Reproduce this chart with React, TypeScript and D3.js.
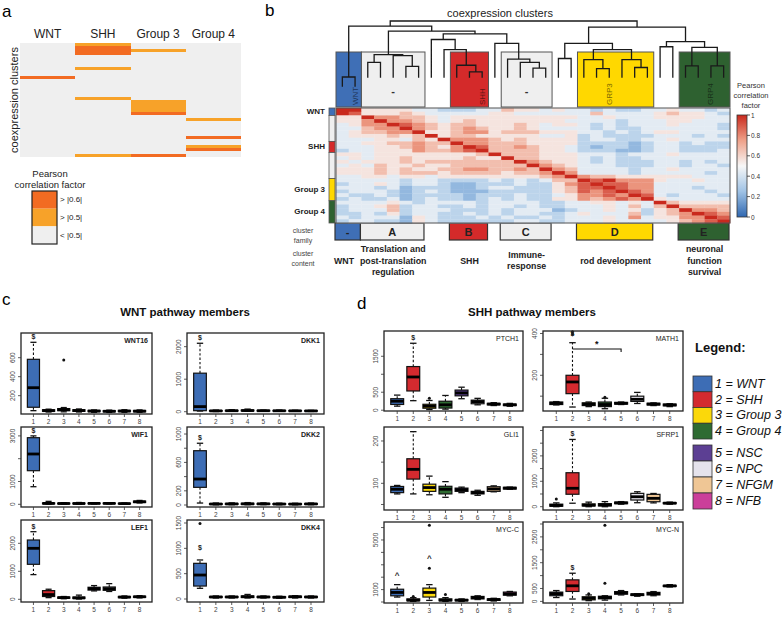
import React from "react";
import * as d3 from "d3";

const SANS = "'Liberation Sans', Arial, Helvetica, sans-serif";
const NARROW = "'Liberation Sans Narrow', 'Liberation Sans', Arial, sans-serif";

// ---------- a: subgroup vs coexpression cluster ----------
const aSubgroups = ["WNT", "SHH", "Group 3", "Group 4"];
const aClusterCount = 38;
const aHitSubgroup = ["SHH", "SHH", "SHH", "SHH", "Group 3", "SHH", "WNT", "SHH", "Group 3", "Group 3", "Group 3", "Group 3", "Group 3", "Group 4", "Group 4", "Group 4", "Group 4", "SHH", "Group 3"];
const aHitCluster = [0, 1, 2, 3, 2, 8, 11, 18, 19, 20, 21, 22, 23, 25, 31, 34, 35, 37, 37];
const aHitLevel = [1, 2, 2, 2, 1, 1, 2, 1, 1, 1, 1, 1, 2, 1, 2, 1, 2, 1, 2]; // 2 = >|0.6|, 1 = >|0.5|
const aLevels = ["> |0.6|", "> |0.5|", "< |0.5|"];
const aLevelColors = ["#f26b22", "#f7a229", "#efefef"];

// ---------- b: cluster correlation matrix (digit = value*9) ----------
const bMatrix = [
  "99 55554 43 334 4 6554 54 434334 45 4434",
  "98 55565 44 444 5 5444 44 464444 56 5543",
  "55 97766 54 555 5 5555 55 445444 55 5544",
  "55 79776 54 565 5 5555 54 444344 45 5444",
  "45 77987 65 665 5 5654 55 434344 45 4443",
  "44 67797 65 676 5 5654 44 434334 44 4443",
  "45 66779 55 677 5 6665 55 443434 55 4444",
  "45 55656 95 665 5 5554 45 343333 44 4343",
  "44 45546 59 777 6 5655 55 344334 45 4444",
  "44 55667 66 977 6 6655 55 333323 44 3433",
  "44 45567 65 798 6 6765 54 323323 44 3333",
  "34 45557 66 789 6 6665 54 333223 44 3334",
  "55 45555 55 556 9 6665 55 444344 45 4444",
  "45 45565 55 565 5 9665 55 434334 44 4444",
  "54 55565 66 666 6 6976 55 434333 44 3434",
  "45 46556 55 666 6 6697 65 444333 44 3443",
  "55 56565 56 677 6 6769 76 444434 45 4444",
  "55 56566 65 666 6 5667 97 444434 44 4434",
  "44 55455 45 555 5 5556 79 766555 55 5444",
  "44 44434 43 333 4 3434 66 989777 54 4544",
  "34 45434 43 223 3 3433 57 898877 44 4444",
  "44 43423 33 223 4 4333 56 889877 44 4344",
  "34 44323 43 222 3 3333 56 878987 44 4434",
  "43 34323 33 323 3 3433 45 778798 43 4443",
  "34 33423 43 323 4 3433 55 767879 54 4444",
  "44 44543 44 443 4 4443 34 455454 96 5555",
  "34 45634 43 343 4 4343 34 445464 69 6666",
  "34 44634 44 333 4 3444 23 445453 56 9776",
  "33 43534 43 343 4 3443 34 544463 56 7987",
  "43 44425 43 334 3 4334 34 445474 55 7798",
  "34 43325 43 333 3 3443 34 445444 45 6789",
];
const bFamilies = ["-", "A", "B", "C", "D", "E"];
const bBoxLabels = ["WNT", "-", "SHH", "-", "GRP3", "GRP4"];
const bContent = [["WNT"], ["Translation and", "post-translation", "regulation"], ["SHH"], ["Immune-", "response"], ["rod development"], ["neuronal", "function", "survival"]];
const bColStart = [0, 2, 9, 13, 19, 27];
const bColEnd = [1, 6, 11, 16, 24, 30];
const bLabelCol = [1, -1, 11, -1, 21, 29];
const bRowSideLabels = ["WNT", "", "SHH", "", "Group 3", "Group 4"];
const bRowStart = [0, 2, 9, 12, 19, 25];
const bRowEnd = [1, 8, 11, 18, 24, 30];
const bScaleTicks = [0, 0.2, 0.4, 0.6, 0.8, 1];
// dendrogram: [merge distance, left, right], leaves are column indices
const bTree: any = [1.0,
  [0.91, [0.0, 0, 1],
    [0.82, [0.4, [0.26, 2, 3], [0.38, 4, [0.19, 5, 6]]],
      [0.77, [0.67, 7, [0.49, 8, [0.21, 9, [0.09, 10, 11]]]],
        [0.6, 12, [0.32, 13, [0.26, 14, [0.16, 15, 16]]]]]]],
  [0.89, [0.6, [0.33, 17, 18], [0.49, [0.31, 19, [0.15, 20, 21]], [0.31, 22, [0.17, 23, 24]]]],
    [0.63, [0.54, 25, 26], [0.53, [0.2, 27, 28], [0.2, 29, 30]]]]];

// ---------- c / d: boxplots, stats = [low whisker, Q1, median, Q3, high whisker] ----------
const groupColors = ["#3d6db5", "#d42a2f", "#fbd80a", "#2e6b32", "#5c3f93", "#e5e3ec", "#efc695", "#cb3f9a"];
const groupLegend = ["1 = WNT", "2 = SHH", "3 = Group 3", "4 = Group 4", "5 = NSC", "6 = NPC", "7 = NFGM", "8 = NFB"];

const WNT16 = { name: "WNT16", domain: [7, 860], ticks: [200, 400, 600], labels: [200, 400, 600],
  stats: [[42, 78, 284, 583, 762], [28, 35, 42, 52, 58], [30, 42, 52, 64, 75], [28, 35, 43, 52, 60], [25, 32, 38, 45, 50], [24, 30, 36, 42, 48], [25, 32, 38, 45, 52], [25, 30, 37, 44, 50]],
  out: [[3, 576]], marks: [[1, "$", 762]] };
const DKK1 = { name: "DKK1", domain: [-71, 2421], ticks: [0, 1000, 2000], labels: [0, 1000, 2000],
  stats: [[20, 31, 157, 1185, 2105], [5, 15, 25, 35, 50], [10, 20, 30, 40, 60], [15, 25, 35, 50, 80], [10, 20, 30, 40, 50], [10, 20, 28, 38, 50], [10, 18, 26, 35, 45], [8, 16, 24, 32, 42]],
  out: [], marks: [[1, "$", 2105]] };
const WIF1 = { name: "WIF1", domain: [-118, 3390], ticks: [0, 1000, 2000, 3000], labels: [0, 1000, 3000],
  stats: [[772, 1474, 2206, 2921, 3000], [10, 20, 40, 60, 130], [10, 20, 35, 50, 70], [10, 20, 35, 55, 80], [15, 25, 40, 55, 70], [15, 25, 40, 55, 70], [10, 20, 30, 45, 60], [60, 80, 110, 140, 170]],
  out: [], marks: [[1, "$", 3000]] };
const DKK2 = { name: "DKK2", domain: [-28, 1099], ticks: [0, 200, 400, 600, 800, 1000], labels: [0, 200, 600, 1000],
  stats: [[28, 249, 366, 765, 870], [3, 8, 14, 20, 28], [4, 9, 15, 22, 30], [4, 9, 16, 24, 34], [5, 10, 16, 22, 30], [4, 8, 14, 20, 26], [3, 8, 13, 19, 25], [4, 9, 15, 21, 28]],
  out: [], marks: [[1, "$", 870]] };
const LEF1 = { name: "LEF1", domain: [-96, 2832], ticks: [0, 1000, 2000], labels: [0, 1000, 2000],
  stats: [[882, 1250, 1821, 2118, 2414], [60, 100, 170, 310, 360], [20, 40, 60, 80, 100], [10, 30, 50, 80, 150], [300, 330, 380, 430, 490], [280, 320, 380, 440, 560], [40, 60, 80, 100, 120], [50, 70, 90, 110, 130]],
  out: [], marks: [[1, "$", 2414]] };
const DKK4 = { name: "DKK4", domain: [-59, 1559], ticks: [0, 500, 1000, 1500], labels: [0, 500, 1000, 1500],
  stats: [[211, 256, 473, 704, 770], [20, 30, 40, 50, 60], [20, 30, 40, 50, 60], [20, 30, 45, 60, 90], [20, 30, 40, 50, 60], [15, 25, 35, 45, 55], [20, 30, 45, 55, 65], [20, 30, 40, 50, 60]],
  out: [[1, 1490]], marks: [[1, "$", 900]] };

const PTCH1 = { name: "PTCH1", domain: [-22, 2203], ticks: [0, 500, 1000, 1500], labels: [0, 500, 1500],
  stats: [[113, 160, 250, 320, 420], [265, 535, 924, 1214, 1862], [20, 55, 110, 165, 270], [30, 60, 150, 250, 410], [320, 400, 480, 560, 640], [150, 180, 240, 280, 330], [130, 150, 170, 190, 210], [110, 130, 150, 170, 190]],
  out: [[3, 330]], marks: [[2, "$", 1862]] };
const MATH1 = { name: "MATH1", domain: [29, 412], ticks: [100, 200, 300, 400], labels: [200, 400],
  stats: [[58, 60, 66, 72, 74], [48, 112, 168, 200, 356], [50, 55, 62, 68, 72], [40, 50, 60, 72, 90], [60, 62, 66, 70, 72], [65, 75, 85, 100, 118], [55, 58, 62, 66, 68], [50, 54, 58, 62, 64]],
  out: [[2, 398], [2, 408], [4, 95]], marks: [[2, "$", 372]] };
const GLI1 = { name: "GLI1", domain: [37, 233], ticks: [50, 100, 150, 200], labels: [100, 200],
  stats: [[75, 78, 86, 92.6, 95], [75, 110, 133, 158, 222], [73, 81, 90, 98, 117], [67, 75, 86, 93, 104], [78, 81, 85, 88.7, 91], [71.7, 75, 78, 81, 83.6], [80, 81, 86.7, 92, 94], [86, 86.5, 88.7, 90.5, 91]],
  out: [], marks: [] };
const SFRP1 = { name: "SFRP1", domain: [-130, 3137], ticks: [0, 500, 1000, 1500, 2000, 2500, 3000], labels: [0, 1000, 2000],
  stats: [[0, 20, 50, 100, 150], [137, 490, 725, 1337, 2647], [0, 30, 60, 110, 180], [0, 30, 70, 120, 200], [100, 120, 150, 180, 200], [157, 263, 392, 525, 588], [150, 196, 329, 486, 520], [100, 120, 140, 160, 180]],
  out: [[1, 300]], marks: [[2, "$", 2647]] };
const MYCC = { name: "MYC-C", domain: [-80, 6448], ticks: [0, 1000, 2000, 3000, 4000, 5000, 6000], labels: [1000, 5000],
  stats: [[400, 500, 770, 1030, 1400], [50, 100, 150, 250, 350], [130, 400, 770, 1120, 1400], [50, 100, 150, 250, 350], [50, 100, 150, 200, 250], [200, 250, 350, 450, 500], [80, 130, 200, 250, 300], [500, 550, 650, 800, 850]],
  out: [[2, 450], [3, 2720], [3, 6180], [4, 600]], marks: [[1, "^", 1700], [3, "^", 3100]] };
const MYCN = { name: "MYC-N", domain: [-62, 3077], ticks: [0, 500, 1000, 1500, 2000, 2500, 3000], labels: [0, 500, 1500, 2500],
  stats: [[150, 220, 300, 360, 420], [92, 385, 604, 835, 1092], [30, 60, 120, 180, 250], [50, 100, 150, 200, 220], [250, 280, 330, 380, 420], [200, 230, 260, 290, 300], [220, 250, 300, 350, 380], [560, 580, 600, 620, 650]],
  out: [[3, 300], [4, 700], [4, 2950]], marks: [[2, "$", 1092]] };
const MATH1_BRACKET = { from: 2, to: 5, value: 326, label: "*" };

const cGenes = [[WNT16, DKK1], [WIF1, DKK2], [LEF1, DKK4]];
const dGenes = [[PTCH1, MATH1], [GLI1, SFRP1], [MYCC, MYCN]];

// ---------- layout ----------
const cCols = [[21, 152], [187, 324]];
const cRows = [[333, 414], [427, 507], [520, 602]];
const dCols = [[384, 523], [543, 683]];
const dRows = [[331, 411], [427, 510], [522, 603]];

const heatColor = d3.scaleLinear<string>()
  .domain([0, 0.25, 0.5, 0.75, 1])
  .range(["#2f67b1", "#9fc2e5", "#f7f7f7", "#efa189", "#c9291d"]);

function PanelA() {
  const x = d3.scaleBand().domain(aSubgroups).range([20, 241]);
  const y = d3.scaleBand<number>().domain(d3.range(aClusterCount)).range([43, 157]);
  const ly = d3.scaleBand().domain(aLevels).range([191, 244]);
  return (
    <g>
      <text x={2} y={17} fontSize={17}>a</text>
      {aSubgroups.map(g => (
        <text key={g} x={x(g)! + x.bandwidth() / 2} y={38} fontSize={12} textAnchor="middle" fill="#222">{g}</text>
      ))}
      <rect x={20} y={43} width={221} height={114} fill={aLevelColors[2]} />
      {aHitSubgroup.map((g, i) => (
        <rect key={i} x={x(g)} y={y(aHitCluster[i])} width={x.bandwidth()} height={y.bandwidth()}
          fill={aLevelColors[2 - aHitLevel[i]]} shapeRendering="crispEdges" />
      ))}
      <text transform="translate(14,100) rotate(-90)" fontSize={11} textAnchor="middle" dominantBaseline="central" fill="#222">coexpression clusters</text>
      <text x={50} y={177} fontSize={9.5} fontFamily={NARROW} textAnchor="middle" fill="#222">Pearson</text>
      <text x={50} y={188} fontSize={9.5} fontFamily={NARROW} textAnchor="middle" fill="#222">correlation factor</text>
      {aLevels.map((l, i) => (
        <g key={l}>
          <rect x={32} y={ly(l)} width={25} height={ly.bandwidth()} fill={aLevelColors[i]} />
          <text x={60} y={ly(l)! + ly.bandwidth() / 2} fontSize={8} fontFamily={NARROW} dominantBaseline="central" fill="#222">{l}</text>
        </g>
      ))}
      <rect x={32} y={191} width={25} height={53} fill="none" stroke="#222" strokeWidth={1.2} />
    </g>
  );
}

function PanelB() {
  const n = bMatrix.length;
  const x = d3.scaleBand<number>().domain(d3.range(n)).range([336, 730]);
  const y = d3.scaleBand<number>().domain(d3.range(n)).range([108, 223]);
  const cx = (c: number) => x(c)! + x.bandwidth() / 2;
  const yd = d3.scaleLinear().domain([0, 1]).range([77, 21]);
  const boxColors = ["#3f6fb6", "#efefef", "#d42a2a", "#efefef", "#ffd800", "#2e6130"];
  const segs: number[][] = [];
  const walk = (node: any): { x: number; y: number } => {
    if (typeof node === "number") return { x: cx(node), y: node < 2 ? yd(0) + 9 : yd(0) };
    const [h, l, r] = node;
    const L = walk(l), R = walk(r), yy = yd(h);
    segs.push([L.x, L.y, L.x, yy], [R.x, R.y, R.x, yy], [L.x, yy, R.x, yy]);
    return { x: (L.x + R.x) / 2, y: yy };
  };
  walk(bTree);
  const sy = d3.scaleLinear().domain([0, 1]).range([217, 115]);
  const vals = bMatrix.map(r => r.replace(/ /g, "").split("").map(ch => +ch / 9));
  return (
    <g>
      <text x={265} y={16} fontSize={17}>b</text>
      <text x={500} y={17} fontSize={11} textAnchor="middle" fill="#222">coexpression clusters</text>
      {bFamilies.map((f, i) => {
        const x0 = x(bColStart[i])!, x1 = x(bColEnd[i])! + x.bandwidth();
        const lx = bLabelCol[i] >= 0 ? cx(bLabelCol[i]) : (x0 + x1) / 2;
        const dark = d3.color(boxColors[i])!.darker(2).toString();
        const narrow = bColEnd[i] - bColStart[i] < 2;
        return (
          <g key={f + i}>
            <rect x={x0} y={52} width={x1 - x0} height={55} fill={boxColors[i]} stroke="#555" strokeWidth={1} />
            {bBoxLabels[i] === "-" ? (
              <text x={lx} y={95} fontSize={11} fontWeight="bold" textAnchor="middle" fill="#333">-</text>
            ) : (
              <text transform={`translate(${lx},105) rotate(-90)`} fontSize={8} dominantBaseline="central" fill={dark}>{bBoxLabels[i]}</text>
            )}
            <rect x={x0 - 1} y={223} width={x1 - x0} height={17} fill={boxColors[i]} stroke="#333" strokeWidth={1.2} />
            <text x={(x0 + x1) / 2 - 1} y={232} fontSize={11} fontWeight="bold" textAnchor="middle" dominantBaseline="central" fill="#222">{f}</text>
            {bContent[i].map((t, k) => (
              <text key={k} x={narrow ? x0 - 2 : (x0 + x1) / 2} y={260.5 + (k - (bContent[i].length - 1) / 2) * 11.3}
                fontSize={8.8} fontWeight="bold" textAnchor={narrow ? "start" : "middle"} dominantBaseline="central" fill="#222">{t}</text>
            ))}
          </g>
        );
      })}
      <path d={segs.map(s => `M${s[0]},${s[1]}L${s[2]},${s[3]}`).join("")} stroke="#1a1a1a" strokeWidth={1.3} fill="none" strokeLinecap="square" />
      {vals.map((row, r) => row.map((v, c) => (
        <rect key={r + "-" + c} x={x(c)} y={y(r)} width={x.bandwidth() + 0.3} height={y.bandwidth() + 0.3} fill={heatColor(v)} />
      )))}
      <rect x={336} y={108} width={394} height={115} fill="none" stroke="#555" strokeWidth={1} />
      {bRowSideLabels.map((l, i) => {
        const y0 = y(bRowStart[i])!, y1 = y(bRowEnd[i])! + y.bandwidth();
        return (
          <g key={i}>
            <rect x={329} y={y0} width={6} height={y1 - y0} fill={boxColors[i]} stroke="#555" strokeWidth={0.8} />
            {l && <text x={325} y={(y0 + y1) / 2} fontSize={8} fontWeight="bold" textAnchor="end" dominantBaseline="central" fill="#222">{l}</text>}
          </g>
        );
      })}
      <text x={303} y={230} fontSize={7} textAnchor="middle" dominantBaseline="central" fill="#444">cluster</text>
      <text x={303} y={240} fontSize={7} textAnchor="middle" dominantBaseline="central" fill="#444">family</text>
      <text x={303} y={253} fontSize={7} textAnchor="middle" dominantBaseline="central" fill="#444">cluster</text>
      <text x={303} y={263} fontSize={7} textAnchor="middle" dominantBaseline="central" fill="#444">content</text>
      {["Pearson", "correlation", "factor"].map((t, k) => (
        <text key={t} x={751} y={88 + k * 10} fontSize={7.5} textAnchor="middle" fill="#333">{t}</text>
      ))}
      <defs>
        <linearGradient id="pcf" x1="0" y1="1" x2="0" y2="0">
          {d3.range(0, 1.01, 0.125).map(t => <stop key={t} offset={t} stopColor={heatColor(t)} />)}
        </linearGradient>
      </defs>
      <rect x={737} y={115} width={10} height={102} fill="url(#pcf)" stroke="#333" strokeWidth={0.8} />
      {bScaleTicks.map(t => (
        <g key={t}>
          <line x1={747} x2={750} y1={sy(t)} y2={sy(t)} stroke="#333" strokeWidth={0.8} />
          <text x={751} y={sy(t)} fontSize={6.5} dominantBaseline="central" fill="#333">{t}</text>
        </g>
      ))}
    </g>
  );
}

function BoxPanel({ gene, frame, bold }: any) {
  const [x0, x1, y0, y1] = frame;
  const x = d3.scaleLinear().domain([0.18, 8.82]).range([x0, x1]);
  const y = d3.scaleLinear().domain(gene.domain).range([y1, y0]);
  const bw = x(1.4) - x(0.6);
  return (
    <g>
      {gene.stats.map((s: number[], i: number) => {
        const c = x(i + 1);
        return (
          <g key={i}>
            <line x1={c} x2={c} y1={y(s[3])} y2={y(s[4])} stroke="#111" strokeWidth={1.1} strokeDasharray="2.4,2" />
            <line x1={c} x2={c} y1={y(s[1])} y2={y(s[0])} stroke="#111" strokeWidth={1.1} strokeDasharray="2.4,2" />
            <line x1={c - bw / 4} x2={c + bw / 4} y1={y(s[4])} y2={y(s[4])} stroke="#111" strokeWidth={1.3} />
            <line x1={c - bw / 4} x2={c + bw / 4} y1={y(s[0])} y2={y(s[0])} stroke="#111" strokeWidth={1.3} />
            <rect x={c - bw / 2} y={y(s[3])} width={bw} height={Math.max(0.5, y(s[1]) - y(s[3]))} fill={groupColors[i]} stroke="#111" strokeWidth={1.2} />
            <line x1={c - bw / 2} x2={c + bw / 2} y1={y(s[2])} y2={y(s[2])} stroke="#000" strokeWidth={2.8} />
          </g>
        );
      })}
      {gene.out.map((o: number[], k: number) => (
        <circle key={k} cx={x(o[0])} cy={y(o[1])} r={1.5} fill="#111" />
      ))}
      {gene.marks.map((m: any[], k: number) => (
        <text key={k} x={x(m[0])} y={y(m[2]) - 3} fontSize={m[1] === "^" ? 8 : 7} fontWeight="bold" textAnchor="middle" fill="#222">{m[1]}</text>
      ))}
      <rect x={x0} y={y0} width={x1 - x0} height={y1 - y0} fill="none" stroke="#222" strokeWidth={1.3} />
      <text x={x1 - 4} y={y0 + 10} fontSize={7} fontWeight={bold ? "bold" : "normal"} textAnchor="end" fill="#222">{gene.name}</text>
      {d3.range(1, 9).map(i => (
        <g key={i}>
          <line x1={x(i)} x2={x(i)} y1={y1} y2={y1 + 3} stroke="#333" strokeWidth={0.8} />
          <text x={x(i)} y={y1 + 10} fontSize={6.5} textAnchor="middle" fill="#444">{i}</text>
        </g>
      ))}
      {gene.ticks.map((t: number) => (
        <line key={t} x1={x0 - 3} x2={x0} y1={y(t)} y2={y(t)} stroke="#333" strokeWidth={0.8} />
      ))}
      {gene.labels.map((t: number) => (
        <text key={t} transform={`translate(${x0 - 6},${y(t)}) rotate(-90)`} fontSize={6.5} textAnchor="middle" fill="#444">{t}</text>
      ))}
    </g>
  );
}

function PanelC() {
  return (
    <g>
      <text x={2} y={305} fontSize={17}>c</text>
      <text x={185} y={316} fontSize={11.5} fontWeight="bold" textAnchor="middle" fill="#111">WNT pathway members</text>
      {cGenes.map((row, r) => row.map((g, c) => (
        <BoxPanel key={g.name} gene={g} bold frame={[cCols[c][0], cCols[c][1], cRows[r][0], cRows[r][1]]} />
      )))}
    </g>
  );
}

function PanelD() {
  const mx = d3.scaleLinear().domain([0.18, 8.82]).range(dCols[1]);
  const my = d3.scaleLinear().domain(MATH1.domain).range([dRows[0][1], dRows[0][0]]);
  const by = my(MATH1_BRACKET.value);
  const ly0 = d3.scaleBand<number>().domain([0, 1, 2, 3]).range([376, 439]);
  const ly1 = d3.scaleBand<number>().domain([4, 5, 6, 7]).range([445, 509]);
  return (
    <g>
      <text x={357} y={309} fontSize={17}>d</text>
      <text x={532} y={316} fontSize={11.5} fontWeight="bold" textAnchor="middle" fill="#111">SHH pathway members</text>
      {dGenes.map((row, r) => row.map((g, c) => (
        <BoxPanel key={g.name} gene={g} bold={false} frame={[dCols[c][0], dCols[c][1], dRows[r][0], dRows[r][1]]} />
      )))}
      <path d={`M${mx(MATH1_BRACKET.from)},${by}L${mx(MATH1_BRACKET.to)},${by}L${mx(MATH1_BRACKET.to)},${by + 3}`} stroke="#111" strokeWidth={1.1} fill="none" />
      <text x={(mx(MATH1_BRACKET.from) + mx(MATH1_BRACKET.to)) / 2} y={by - 2} fontSize={9} fontWeight="bold" textAnchor="middle" fill="#111">{MATH1_BRACKET.label}</text>
      <text x={695} y={352} fontSize={13} fontWeight="bold" fill="#111">Legend:</text>
      {groupLegend.map((l, i) => {
        const sc = i < 4 ? ly0 : ly1;
        return (
          <g key={l}>
            <rect x={693} y={sc(i)} width={19} height={sc.bandwidth()} fill={groupColors[i]} stroke="#333" strokeWidth={0.8} />
            <text x={715} y={sc(i)! + sc.bandwidth() / 2} fontSize={12.5} fontStyle="italic" dominantBaseline="central" fill="#111">{l}</text>
          </g>
        );
      })}
    </g>
  );
}

export default function App() {
  return (
    <svg width={783} height={619} fontFamily={SANS} style={{ position: "absolute", left: 0, top: 0, background: "#fff" }}>
      <PanelA />
      <PanelB />
      <PanelC />
      <PanelD />
    </svg>
  );
}
